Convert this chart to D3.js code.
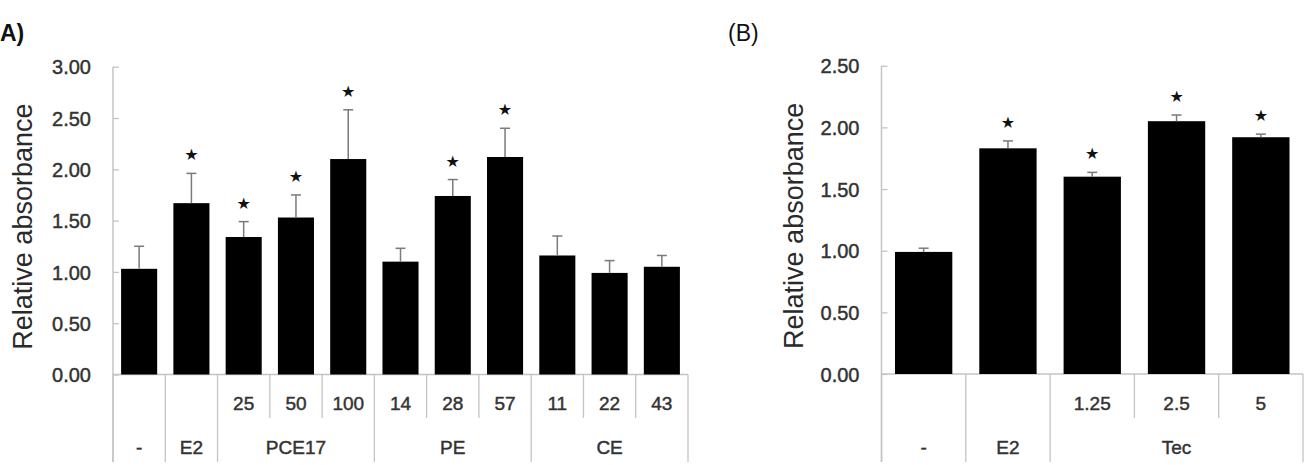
<!DOCTYPE html>
<html>
<head>
<meta charset="utf-8">
<script src="https://cdn.jsdelivr.net/npm/d3@7"></script>
<style>
  body { margin: 0; background: #fff; }
  svg { display: block; font-family: "Liberation Sans", Arial, sans-serif; }
  .lbl { fill: #333; stroke: #333; stroke-width: 0.45px; }
</style>
</head>
<body>
<svg id="chart" width="1305" height="465"></svg>
<script>
// ---- data, panel A ----
var groupsA = ["-", "E2", "PCE17", "PE", "CE"];
var dosesA = [[""], [""], ["25", "50", "100"], ["14", "28", "57"], ["11", "22", "43"]];
var meansA = [1.03, 1.67, 1.34, 1.53, 2.10, 1.10, 1.74, 2.12, 1.16, 0.99, 1.05];
var errsA  = [0.22, 0.29, 0.15, 0.22, 0.48, 0.13, 0.16, 0.28, 0.19, 0.12, 0.11];
var starsA = [false, true, true, true, true, false, true, true, false, false, false];
var ticksA = [0, 0.5, 1, 1.5, 2, 2.5, 3];

// ---- data, panel B ----
var groupsB = ["-", "E2", "Tec"];
var dosesB = [[""], [""], ["1.25", "2.5", "5"]];
var meansB = [0.99, 1.83, 1.60, 2.05, 1.92];
var errsB  = [0.03, 0.06, 0.035, 0.05, 0.025];
var starsB = [false, true, true, true, true];
var ticksB = [0, 0.5, 1, 1.5, 2, 2.5];

var svg = d3.select("#chart");
var axisColor = "#c4c4c4";

function panel(p) {
  // flatten the groups into one list of bars
  var rows = [];
  p.groups.forEach(function(g, gi) {
    p.doses[gi].forEach(function(d, di) {
      rows.push({key: g + "|" + d, group: g, dose: d, first: di == 0});
    });
  });
  rows.forEach(function(r, i) {
    r.mean = p.means[i]; r.err = p.errs[i]; r.star = p.stars[i];
  });

  var x = d3.scaleBand().domain(rows.map(function(r) { return r.key; }))
    .range([p.left, p.right]).padding(0);
  var y = d3.scaleLinear().domain([0, p.ymax]).range([p.base, p.top]);
  var bw = x.bandwidth() * p.barFrac;

  var g = svg.append("g");

  // y axis, ticks pointing inward
  var yAxis = d3.axisLeft(y).tickValues(p.ticks)
    .tickFormat(d3.format(".2f")).tickSize(-6).tickPadding(22);
  var ya = g.append("g").attr("transform", "translate(" + p.left + ",0)").call(yAxis);
  ya.select(".domain").remove();
  ya.selectAll("line").attr("stroke", axisColor).attr("stroke-width", 1.3);
  ya.selectAll("text").attr("font-size", 20).attr("class", "lbl")
    .attr("dy", "0.36em")
    .style("font-family", "'Liberation Sans', Arial, sans-serif");
  g.append("line").attr("x1", p.left).attr("x2", p.left)
    .attr("y1", y(p.ymax)).attr("y2", p.bottom)
    .attr("stroke", axisColor).attr("stroke-width", 1.5);

  // baseline
  g.append("line").attr("x1", p.left).attr("x2", p.right)
    .attr("y1", y(0)).attr("y2", y(0))
    .attr("stroke", axisColor).attr("stroke-width", 1.5);

  // bars
  g.selectAll("rect.bar").data(rows).enter().append("rect")
    .attr("class", "bar")
    .attr("x", function(d) { return x(d.key) + (x.bandwidth() - bw) / 2; })
    .attr("width", bw)
    .attr("y", function(d) { return y(d.mean); })
    .attr("height", function(d) { return y(0) - y(d.mean); })
    .attr("fill", "#000");

  // error bars (upper only)
  var eb = g.selectAll("g.err").data(rows).enter().append("g").attr("class", "err")
    .attr("stroke", "#7a7a7a").attr("stroke-width", 1.5);
  eb.append("line")
    .attr("x1", function(d) { return x(d.key) + x.bandwidth() / 2; })
    .attr("x2", function(d) { return x(d.key) + x.bandwidth() / 2; })
    .attr("y1", function(d) { return y(d.mean); })
    .attr("y2", function(d) { return y(d.mean + d.err); });
  eb.append("line")
    .attr("x1", function(d) { return x(d.key) + x.bandwidth() / 2 - 5; })
    .attr("x2", function(d) { return x(d.key) + x.bandwidth() / 2 + 5; })
    .attr("y1", function(d) { return y(d.mean + d.err); })
    .attr("y2", function(d) { return y(d.mean + d.err); });

  // significance stars
  g.selectAll("text.star").data(rows.filter(function(d) { return d.star; })).enter()
    .append("text").attr("class", "star")
    .attr("x", function(d) { return x(d.key) + x.bandwidth() / 2; })
    .attr("y", function(d) { return y(d.mean + d.err) - 13; })
    .attr("text-anchor", "middle")
    .attr("font-size", 16)
    .style("font-family", "'DejaVu Sans', sans-serif")
    .attr("fill", "#111")
    .text("\u2605");

  // category table under the axis
  rows.forEach(function(r, i) {
    var xl = x(r.key);
    var full = r.first;
    g.append("line").attr("x1", xl).attr("x2", xl)
      .attr("y1", y(0)).attr("y2", full ? p.bottom : p.midRow)
      .attr("stroke", axisColor).attr("stroke-width", 1.3);
    if (r.dose) {
      g.append("text").attr("x", xl + x.bandwidth() / 2).attr("y", p.doseY)
        .attr("text-anchor", "middle").attr("font-size", 19).attr("class", "lbl")
        .text(r.dose);
    }
  });
  g.append("line").attr("x1", p.right).attr("x2", p.right)
    .attr("y1", y(0)).attr("y2", p.bottom)
    .attr("stroke", axisColor).attr("stroke-width", 1.3);

  p.groups.forEach(function(gname) {
    var rs = rows.filter(function(r) { return r.group == gname; });
    var x0 = x(rs[0].key), x1 = x(rs[rs.length - 1].key) + x.bandwidth();
    g.append("text").attr("x", (x0 + x1) / 2).attr("y", p.groupY)
      .attr("text-anchor", "middle").attr("font-size", 19).attr("class", "lbl")
      .text(gname);
  });

  // y title
  g.append("text")
    .attr("transform", "translate(" + p.titleX + "," + ((y(0) + y(p.ymax)) / 2 + 6) + ") rotate(-90)")
    .attr("text-anchor", "middle").attr("font-size", 27).attr("fill", "#2a2a2a")
    .text("Relative absorbance");

  // panel label
  svg.append("text").attr("x", p.labelX).attr("y", 41)
    .attr("font-size", 23).attr("font-weight", p.labelWeight).attr("fill", "#111")
    .text(p.label);
}

panel({
  groups: groupsA, doses: dosesA, means: meansA, errs: errsA, stars: starsA,
  ticks: ticksA, ymax: 3, left: 113, right: 688, base: 374.5, top: 66.7,
  bottom: 462, midRow: 418, doseY: 410, groupY: 454, barFrac: 0.69,
  titleX: 32, label: "A)", labelX: 0, labelWeight: "bold"
});
panel({
  groups: groupsB, doses: dosesB, means: meansB, errs: errsB, stars: starsB,
  ticks: ticksB, ymax: 2.5, left: 881.5, right: 1303, base: 374, top: 65.7,
  bottom: 462, midRow: 418, doseY: 410, groupY: 454, barFrac: 0.68,
  titleX: 803, label: "(B)", labelX: 728, labelWeight: "normal"
});
</script>
</body>
</html>
